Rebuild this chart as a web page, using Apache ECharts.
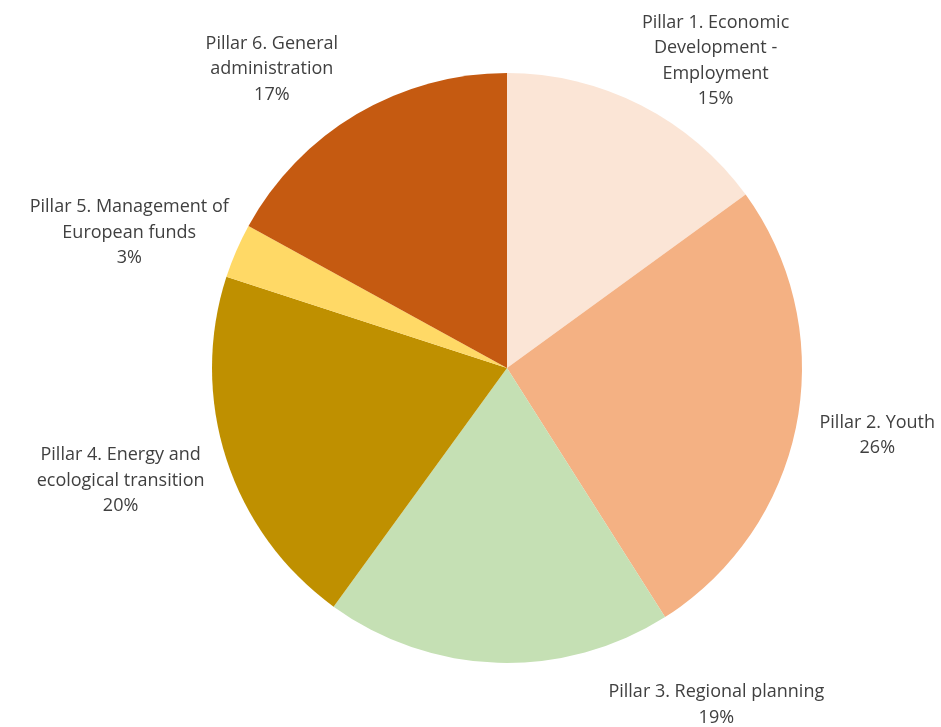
<!DOCTYPE html>
<html>
<head>
<meta charset="utf-8">
<script src="https://cdn.jsdelivr.net/npm/echarts@6/dist/echarts.min.js"></script>
<style>
  html, body { margin: 0; padding: 0; background: #ffffff; }
  #chart { width: 941px; height: 727px; }
</style>
</head>
<body>
<div id="chart"></div>
<script>
// Budget share by pillar (percent)
const categories = [
  'Pillar 1. Economic\nDevelopment -\nEmployment',
  'Pillar 2. Youth',
  'Pillar 3. Regional planning',
  'Pillar 4. Energy and\necological transition',
  'Pillar 5. Management of\nEuropean funds',
  'Pillar 6. General\nadministration'
];
const shares = [15, 26, 19, 20, 3, 17];
const colors = ['#FBE5D6', '#F4B183', '#C5E0B4', '#BF9000', '#FFD966', '#C55A11'];

// Label anchor placement around the pie: angle clockwise from 12 o'clock (deg), distance from centre (px)
const labelAnchors = [
  [34, 373], [100, 376], [148, 395], [254, 402], [290, 402], [322, 382]
];
const CX = 507, CY = 368, R = 295;

const chart = echarts.init(document.getElementById('chart'), null, { renderer: 'canvas' });

chart.setOption({
  animation: false,
  backgroundColor: '#ffffff',
  series: [{
    type: 'pie',
    center: [CX, CY],
    radius: [0, R],
    startAngle: 90,
    clockwise: true,
    avoidLabelOverlap: false,
    itemStyle: { borderWidth: 0 },
    label: {
      show: true,
      position: 'outside',
      formatter: '{b}\n{c}%',
      color: '#404040',
      fontFamily: '"Open Sans", sans-serif',
      fontSize: 18,
      lineHeight: 25.5,
      align: 'center'
    },
    labelLine: { show: false },
    labelLayout: function (p) {
      const a = labelAnchors[p.dataIndex];
      const rad = a[0] * Math.PI / 180;
      return {
        x: CX + a[1] * Math.sin(rad),
        y: CY - a[1] * Math.cos(rad) + 2,
        align: 'center',
        verticalAlign: 'middle'
      };
    },
    data: categories.map((name, i) => ({
      name: name,
      value: shares[i],
      itemStyle: { color: colors[i] }
    }))
  }]
});
</script>
</body>
</html>
